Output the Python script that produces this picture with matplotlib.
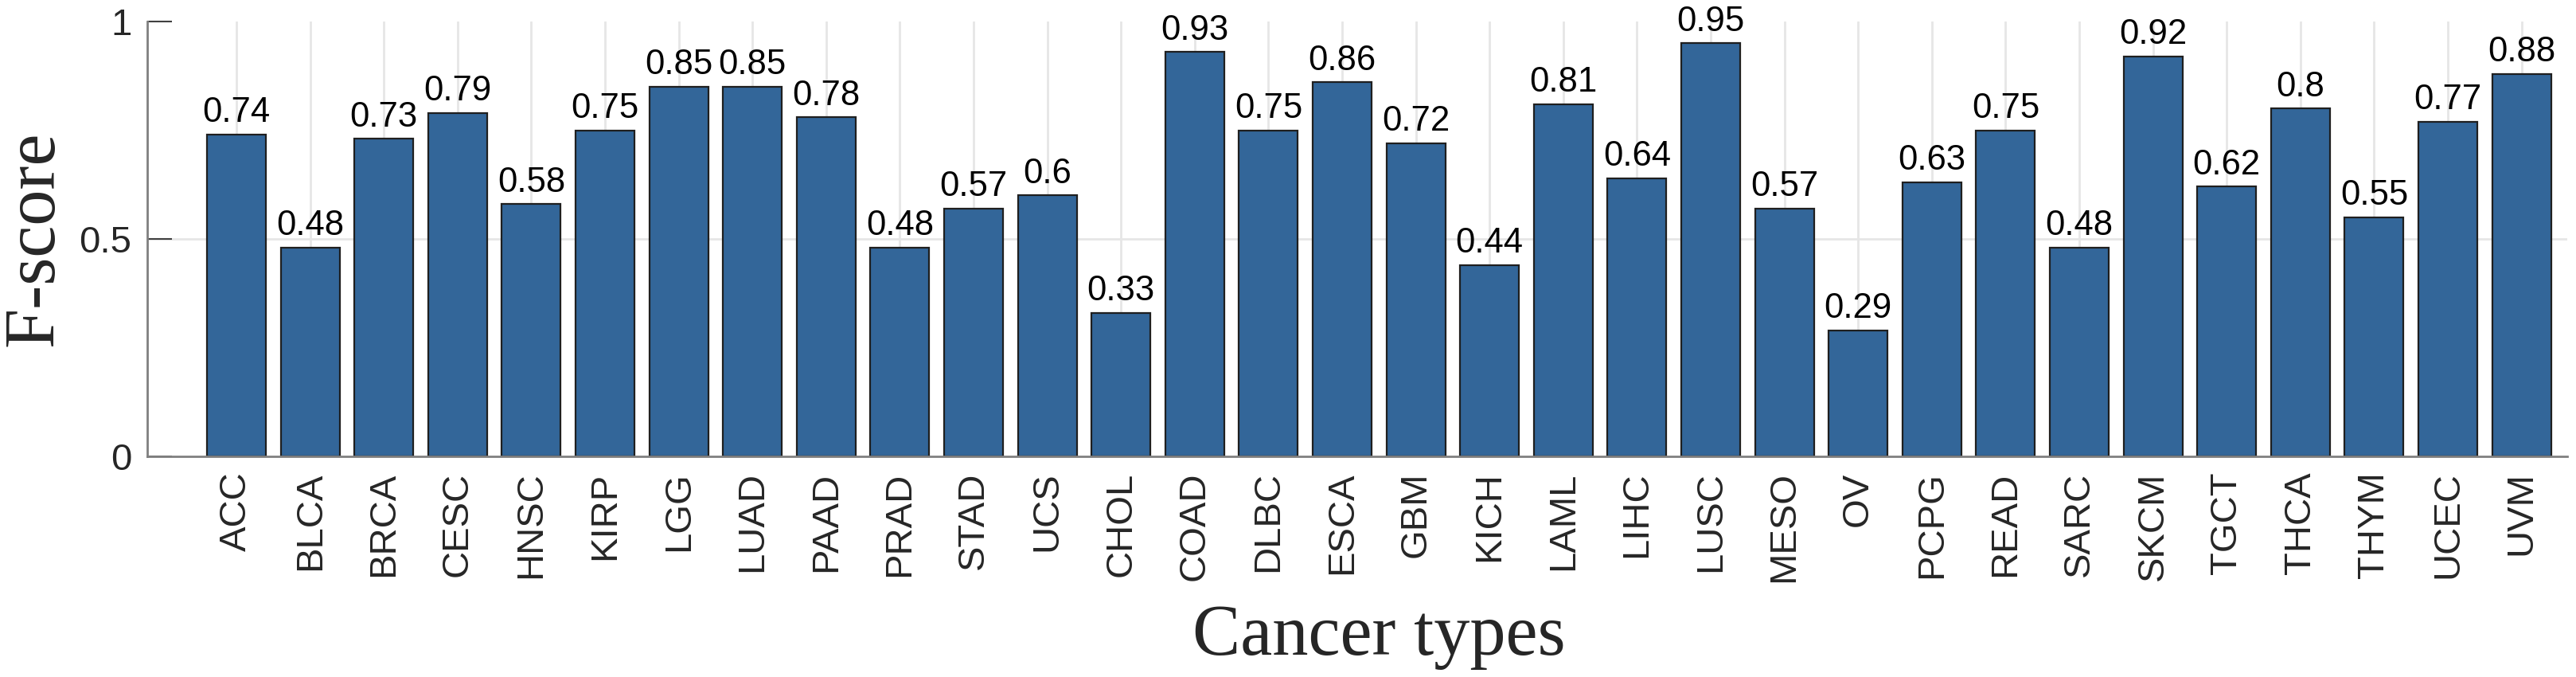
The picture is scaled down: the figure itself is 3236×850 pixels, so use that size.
import numpy as np
import matplotlib
matplotlib.use('Agg')
import matplotlib.pyplot as plt

"""
F-score per cancer type, bar chart with value labels on top
"""

cancer_types = ['ACC', 'BLCA', 'BRCA', 'CESC', 'HNSC', 'KIRP', 'LGG', 'LUAD',
                'PAAD', 'PRAD', 'STAD', 'UCS', 'CHOL', 'COAD', 'DLBC', 'ESCA',
                'GBM', 'KICH', 'LAML', 'LIHC', 'LUSC', 'MESO', 'OV', 'PCPG',
                'READ', 'SARC', 'SKCM', 'TGCT', 'THCA', 'THYM', 'UCEC', 'UVM']
f_scores = [0.74, 0.48, 0.73, 0.79, 0.58, 0.75, 0.85, 0.85,
            0.78, 0.48, 0.57, 0.60, 0.33, 0.93, 0.75, 0.86,
            0.72, 0.44, 0.81, 0.64, 0.95, 0.57, 0.29, 0.63,
            0.75, 0.48, 0.92, 0.62, 0.80, 0.55, 0.77, 0.88]
y_ticks = [0, 0.5, 1]
y_tick_labels = ['0', '0.5', '1']


def fmt_value(v):
    # matlab style num2str, drop trailing zeros
    s = '%.2f' % v
    s = s.rstrip('0').rstrip('.')
    return s


if __name__ == '__main__':
    plt.close('all')

    sans = ['Liberation Sans', 'DejaVu Sans']
    serif = ['Liberation Serif', 'DejaVu Serif']

    fig = plt.figure(figsize=(32.37, 8.5), dpi=100)
    ax = fig.add_axes([185 / 3237, (850 - 573) / 850,
                       (3225 - 185) / 3237, (573 - 27) / 850])

    x = np.arange(len(cancer_types))
    bars = ax.bar(x, f_scores, width=0.8, color='#336699',
                  edgecolor='#1f1f1f', linewidth=1.6, zorder=3)

    #value labels
    for xi, v in zip(x, f_scores):
        ax.text(xi, v + 0.012, fmt_value(v), ha='center', va='bottom',
                fontsize=31.5, family=sans, color='black', zorder=4)

    ax.set_xlim(-1.21, len(cancer_types) - 1 + 0.62)
    ax.set_ylim(0, 1)

    ax.set_xticks(x)
    ax.set_xticklabels(cancer_types, rotation=90, fontsize=34, family=sans,
                       color='#262626')
    ax.set_yticks(y_ticks)
    ax.set_yticklabels(y_tick_labels, fontsize=34, family=sans, color='#262626')

    ax.tick_params(axis='both', direction='in', length=22, width=1.5,
                   color='#404040', zorder=5)
    ax.tick_params(axis='x', pad=14)
    ax.tick_params(axis='y', pad=14)

    #grid behind bars, vertical at each category and one line at 0.5
    ax.grid(True, axis='x', color='#e6e6e6', linewidth=2, zorder=0)
    ax.axhline(0.5, color='#e6e6e6', linewidth=2, zorder=0)
    ax.set_axisbelow(True)

    for side in ['top', 'right']:
        ax.spines[side].set_visible(False)
    for side in ['left', 'bottom']:
        ax.spines[side].set_color('#808080')
        ax.spines[side].set_linewidth(2)
        ax.spines[side].set_zorder(6)

    fig.text(1732 / 3237, 28 / 850, 'Cancer types', ha='center',
             va='baseline', fontsize=65, family=serif, color='#262626')
    fig.text(44 / 3237, (850 - 300) / 850, 'F-score', ha='center',
             va='center', rotation=90, fontsize=65, family=serif,
             color='#262626')

    fig.savefig('out.png', dpi=100)
